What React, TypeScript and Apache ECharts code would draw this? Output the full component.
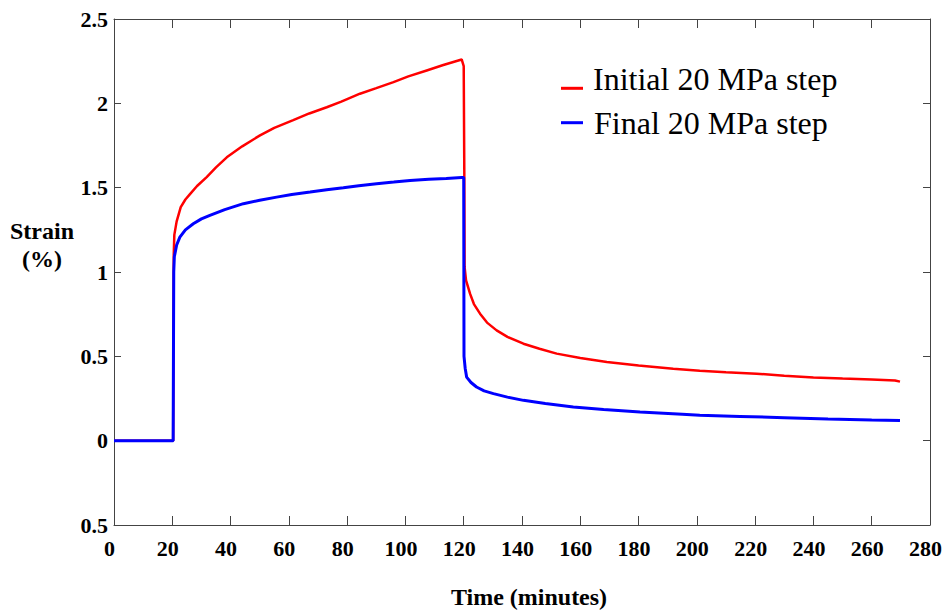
import React, { useEffect, useRef } from "react";
import * as echarts from "echarts";

const seriesNames = ["Initial 20 MPa step", "Final 20 MPa step"];
const seriesColors = ["#ff0000", "#0000ff"];

const initialTime = [0, 20.3, 20.5, 20.7, 21.5, 22.9, 24.5, 26, 28.5, 31.8, 35, 38.7, 44, 50.1, 55, 61.5, 67, 73, 78, 84.4, 90, 95.9, 101, 107.3, 113, 119.3, 120.0, 120.2, 120.3, 120.8, 122.2, 123.5, 125.6, 128, 131.3, 135, 140.5, 146, 151.9, 160, 169.1, 180, 191.9, 201, 210, 220.5, 230, 240, 250, 260, 268, 269.7];
const initialStrain = [0, 0, 1.1, 1.22, 1.3, 1.385, 1.43, 1.46, 1.51, 1.563, 1.62, 1.68, 1.745, 1.81, 1.855, 1.9, 1.94, 1.977, 2.01, 2.057, 2.09, 2.126, 2.16, 2.195, 2.227, 2.26, 2.22, 1.6, 1.03, 0.95, 0.87, 0.81, 0.753, 0.7, 0.654, 0.615, 0.575, 0.545, 0.516, 0.49, 0.466, 0.445, 0.427, 0.415, 0.405, 0.397, 0.385, 0.375, 0.368, 0.362, 0.357, 0.35];

const finalTime = [0, 20.3, 20.5, 20.7, 21.5, 22.6, 24.5, 27.2, 30, 32.9, 38, 44.4, 50, 55.8, 61, 67.3, 73, 78.7, 84, 90.1, 96, 101.6, 108, 114, 119.3, 120.0, 120.1, 120.5, 121, 122.5, 124.4, 127, 130.2, 135, 140.5, 148, 157.6, 168, 180.5, 195, 201, 214.8, 230, 245, 260, 269.7];
const finalStrain = [0, 0, 1.0, 1.09, 1.16, 1.207, 1.25, 1.286, 1.315, 1.336, 1.37, 1.405, 1.425, 1.444, 1.46, 1.474, 1.488, 1.5, 1.512, 1.523, 1.533, 1.543, 1.55, 1.555, 1.56, 1.56, 0.5, 0.43, 0.377, 0.345, 0.318, 0.295, 0.279, 0.258, 0.239, 0.22, 0.2, 0.185, 0.17, 0.157, 0.15, 0.144, 0.136, 0.128, 0.122, 0.12];

const xMin = 0;
const xMax = 280;
const xInterval = 20;
const yMin = -0.5;
const yMax = 2.5;
const yInterval = 0.5;
const yTickLabels = ["0.5", "0", "0.5", "1", "1.5", "2", "2.5"];

const xTitle = "Time (minutes)";
const yTitle = "Strain\n(%)";

const FONT = "Liberation Serif";

export default function App() {
  const ref = useRef<HTMLDivElement>(null);
  useEffect(() => {
    if (!ref.current) return;
    const chart = echarts.init(ref.current, undefined, { renderer: "svg" });
    const zip = (xs: number[], ys: number[]) => xs.map((x, i) => [x, ys[i]]);
    const axisLine = { show: true, onZero: false, lineStyle: { color: "#444", width: 1 } };
    const tickStyle = { color: "#444", width: 1 };
    const option: any = {
      animation: false,
      backgroundColor: "#fff",
      grid: { left: 114, top: 19, right: 17, bottom: 86, containLabel: false },
      xAxis: [
        {
          type: "value",
          min: xMin,
          max: xMax,
          interval: xInterval,
          position: "bottom",
          axisLine,
          axisTick: { show: true, inside: true, length: 9, lineStyle: tickStyle },
          splitLine: { show: false },
          axisLabel: {
            show: true,
            margin: 12,
            color: "#000",
            fontFamily: FONT,
            fontWeight: "bold",
            fontSize: 22,
            padding: [0, 9, 0, 0],
          },
        },
        {
          type: "value",
          min: xMin,
          max: xMax,
          interval: xInterval,
          position: "top",
          axisLine,
          axisTick: { show: true, inside: true, length: 9, lineStyle: tickStyle },
          splitLine: { show: false },
          axisLabel: { show: false },
        },
      ],
      yAxis: [
        {
          type: "value",
          min: yMin,
          max: yMax,
          interval: yInterval,
          position: "left",
          axisLine,
          axisTick: { show: true, inside: true, length: 7, lineStyle: tickStyle },
          splitLine: { show: false },
          axisLabel: {
            show: true,
            margin: 6,
            color: "#000",
            fontFamily: FONT,
            fontWeight: "bold",
            fontSize: 22,
            formatter: (v: number) => {
              const i = Math.round((v - yMin) / yInterval);
              return yTickLabels[i] ?? String(v);
            },
          },
        },
        {
          type: "value",
          min: yMin,
          max: yMax,
          interval: yInterval,
          position: "right",
          axisLine,
          axisTick: { show: true, inside: true, length: 7, lineStyle: tickStyle },
          splitLine: { show: false },
          axisLabel: { show: false },
        },
      ],
      series: [
        {
          name: seriesNames[0],
          type: "line",
          data: zip(initialTime, initialStrain),
          showSymbol: false,
          symbol: "none",
          smooth: false,
          lineStyle: { color: seriesColors[0], width: 2.5 },
          itemStyle: { color: seriesColors[0] },
          z: 2,
        },
        {
          name: seriesNames[1],
          type: "line",
          data: zip(finalTime, finalStrain),
          showSymbol: false,
          symbol: "none",
          smooth: false,
          lineStyle: { color: seriesColors[1], width: 3 },
          itemStyle: { color: seriesColors[1] },
          z: 3,
        },
      ],
      graphic: [
        {
          type: "text",
          x: 529,
          y: 597,
          style: {
            text: xTitle,
            fill: "#000",
            fontFamily: FONT,
            fontWeight: "bold",
            fontSize: 24,
            align: "center",
            verticalAlign: "middle",
          },
        },
        {
          type: "text",
          x: 42,
          y: 245,
          style: {
            text: yTitle,
            fill: "#000",
            fontFamily: FONT,
            fontWeight: "bold",
            fontSize: 24,
            align: "center",
            verticalAlign: "middle",
            lineHeight: 28,
          },
        },
        {
          type: "line",
          shape: { x1: 561, y1: 88.3, x2: 583, y2: 88.3 },
          style: { stroke: seriesColors[0], lineWidth: 3 },
        },
        {
          type: "line",
          shape: { x1: 561, y1: 122.7, x2: 583, y2: 122.7 },
          style: { stroke: seriesColors[1], lineWidth: 3 },
        },
        {
          type: "text",
          x: 593,
          y: 79,
          style: {
            text: seriesNames[0],
            fill: "#000",
            fontFamily: FONT,
            fontSize: 32,
            verticalAlign: "middle",
          },
        },
        {
          type: "text",
          x: 594,
          y: 122.5,
          style: {
            text: seriesNames[1],
            fill: "#000",
            fontFamily: FONT,
            fontSize: 32,
            verticalAlign: "middle",
          },
        },
      ],
    };
    chart.setOption(option);
    return () => chart.dispose();
  }, []);
  return (
    <div
      ref={ref}
      style={{ position: "fixed", left: 0, top: 0, width: 947, height: 611, background: "#fff" }}
    />
  );
}
